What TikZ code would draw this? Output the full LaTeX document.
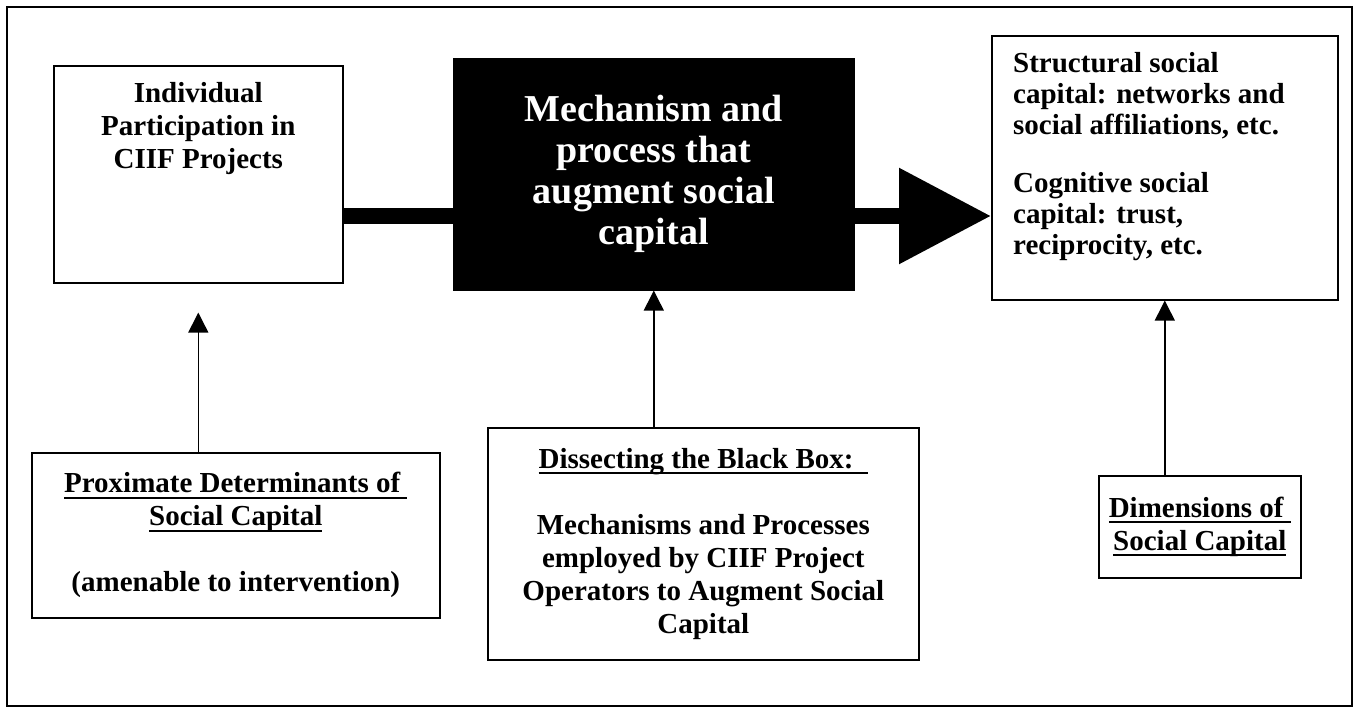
\documentclass[tikz,border=0pt]{standalone}
\usepackage{fontspec}
\setmainfont{Liberation Serif}
\usetikzlibrary{positioning,arrows.meta}
\newsavebox{\ulsave}
\newcommand{\undl}[1]{\sbox{\ulsave}{#1}\rlap{\rule[-6pt]{\wd\ulsave}{2.4pt}}\usebox{\ulsave}}

\begin{document}
\begin{tikzpicture}[x=1pt, y=-1pt, >={Triangle[length=20pt,width=20pt]},
  every node/.style={font=\fontsize{29}{33}\selectfont\bfseries},
  box/.style={draw, line width=1.6pt, inner sep=0pt, align=center},
  txt/.style={inner sep=0pt},
  feed/.style={->, line width=1.4pt},
  bar/.style={line width=16pt}]

  %% ─── frame ──────────────────────────────────────────────────────────
  \useasboundingbox (0,0) rectangle (1356,708);
  \draw[line width=2pt] (7,7) rectangle (1352,706);

  %% ─── top row ────────────────────────────────────────────────────────
  \node[box, anchor=north west, minimum width=289pt, minimum height=217pt] (partic) at (53,65) {};
  \node[txt, align=center, below=17pt of partic.north] (partic_txt)
    {Individual\\Participation in\\CIIF Projects};
  \node[box, fill=black, text=white, anchor=north west, minimum width=400pt, minimum height=231pt,
        font=\fontsize{38}{41}\selectfont\bfseries] (blackbox) at (453,58)
    {Mechanism and\\process that\\augment social\\capital};
  \node[box, anchor=north west, minimum width=346pt, minimum height=264pt] (dims) at (991,35) {};
  \node[txt, align=left, anchor=north west, font=\fontsize{29}{31}\selectfont\bfseries] (dims_txt) at (1013,52)
    {Structural social\\capital: networks and\\social affiliations, etc.\\[27pt]Cognitive social\\capital: trust,\\reciprocity, etc.};

  \coordinate (barline) at (0,216);
  \draw[bar] (barline -| partic.east) -- (barline -| blackbox.west);
  \draw[bar, -{Triangle[length=92pt,width=92pt]}] (barline -| blackbox.east) -- (barline -| dims.west);

  %% ─── bottom row ─────────────────────────────────────────────────────
  \node[box, anchor=north west, minimum width=408pt, minimum height=165pt] (proxim) at (31,452)
    {\undl{Proximate Determinants of\ }\\\undl{Social Capital}\\[33pt](amenable to intervention)};
  \node[box, anchor=north west, minimum width=431pt, minimum height=232pt] (dissect) at (487,427)
    {\undl{Dissecting the Black Box:\ \ }\\[33pt]Mechanisms and Processes\\employed by CIIF Project\\Operators to Augment Social\\Capital};
  \node[box, anchor=north west, minimum width=202pt, minimum height=102pt] (dimlabel) at (1098,475)
    {\undl{Dimensions of\ }\\\undl{Social Capital}};

  \draw[feed] (proxim.north -| partic.south) -- ([yshift=-29pt]partic.south);
  \draw[feed] (dissect.north -| blackbox.south) -- (blackbox.south);
  \draw[feed] (dimlabel.north -| dims.south) -- (dims.south);
\end{tikzpicture}
\end{document}
